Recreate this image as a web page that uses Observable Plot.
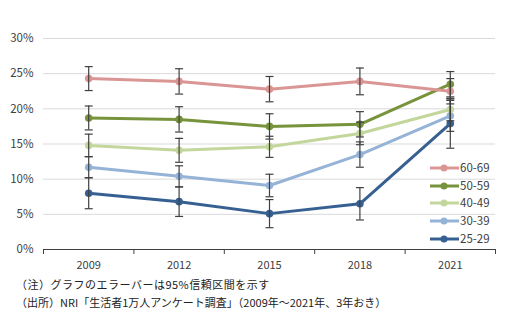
<!DOCTYPE html>
<html><head><meta charset="utf-8">
<script src="https://cdn.jsdelivr.net/npm/d3@7"></script>
<script src="https://cdn.jsdelivr.net/npm/@observablehq/plot@0.6"></script>
<style>
body{margin:0;background:#fff;font-family:"Noto Sans CJK JP","Noto Sans",sans-serif;}
#wrap{position:relative;width:510px;}
#legend{position:absolute;left:430px;top:159px;font-size:11.5px;color:#404040;line-height:17.7px;}
#legend .row{display:flex;align-items:center;height:17.7px;}
#legend svg{margin-right:1px;}
.cap{font-size:11px;color:#222;margin-left:16px;line-height:18px;white-space:nowrap;}
</style></head>
<body>
<div id="wrap"><div id="chart"></div><div id="legend"></div>
<div class="cap" style="letter-spacing:0.5px">（注）グラフのエラーバーは95%信頼区間を示す</div>
<div class="cap">（出所）NRI「生活者1万人アンケート調査」（2009年～2021年、3年おき）</div>
</div>
<script>
const years = [2009, 2012, 2015, 2018, 2021];
const seriesNames = ["60-69", "50-59", "40-49", "30-39", "25-29"];
const colors = ["#D99694", "#77933C", "#C3D69B", "#95B3D7", "#376092"];
const v6069 = [24.3, 23.9, 22.8, 23.9, 22.5];
const e6069 = [1.7, 1.8, 1.8, 1.9, 1.8];
const v5059 = [18.7, 18.5, 17.5, 17.8, 23.5];
const e5059 = [1.7, 1.8, 1.8, 1.8, 1.8];
const v4049 = [14.8, 14.1, 14.6, 16.5, 19.9];
const e4049 = [1.6, 1.7, 1.5, 1.6, 1.6];
const v3039 = [11.7, 10.4, 9.1, 13.5, 19.0];
const e3039 = [1.5, 1.5, 1.6, 1.8, 2.2];
const v2529 = [8.0, 6.8, 5.1, 6.5, 17.9];
const e2529 = [2.2, 2.1, 2.0, 2.3, 3.5];
const yTicks = [0, 5, 10, 15, 20, 25, 30];

const vals = [v6069, v5059, v4049, v3039, v2529];
const errs = [e6069, e5059, e4049, e3039, e2529];
const data = [];
seriesNames.forEach((s, i) => years.forEach((yr, j) => data.push({
  series: s, year: yr, value: vals[i][j], lo: vals[i][j] - errs[i][j], hi: vals[i][j] + errs[i][j]
})));
const boundaries = [years[0] - 1.5, ...years.map(y => y + 1.5)];
const capSymbol = {draw(ctx, size){ const w = 4; ctx.moveTo(-w, 0); ctx.lineTo(w, 0); }};
const drawOrder = [...seriesNames].reverse();

const plot = Plot.plot({
  width: 510, height: 275,
  marginLeft: 43, marginRight: 15, marginTop: 38, marginBottom: 26,
  style: {fontFamily: '"Noto Sans CJK JP","Noto Sans",sans-serif', fontSize: "11px", color: "#404040"},
  x: {domain: [years[0] - 1.5, years[years.length - 1] + 1.5], axis: null},
  y: {domain: [0, 30], axis: null},
  color: {domain: seriesNames, range: colors},
  marks: [
    Plot.ruleY(yTicks.slice(1), {stroke: "#d9d9d9", strokeWidth: 1}),
    Plot.ruleY([0], {stroke: "#404040", strokeWidth: 1}),
    Plot.ruleX(boundaries, {x: d => d, y1: 0, y2: 0, insetBottom: -5, stroke: "#404040"}),
    Plot.text(yTicks, {x: years[0] - 1.5, y: d => d, text: d => d + "%", textAnchor: "end", dx: -10, fontSize: 11.5, fill: "#404040"}),
    Plot.text(years, {x: d => d, y: 0, text: d => String(d), dy: 16, fontSize: 11, fill: "#404040"}),
    ...drawOrder.map(s => Plot.line(data.filter(d => d.series === s), {x: "year", y: "value", stroke: colors[seriesNames.indexOf(s)], strokeWidth: 3})),
    ...drawOrder.map(s => Plot.dot(data.filter(d => d.series === s), {x: "year", y: "value", fill: colors[seriesNames.indexOf(s)], r: 3.8})),
    Plot.ruleX(data, {x: "year", y1: "lo", y2: "hi", stroke: "#404040", strokeWidth: 1.2}),
    Plot.dot(data, {x: "year", y: "lo", symbol: capSymbol, stroke: "#404040", strokeWidth: 1.2, fill: "none"}),
    Plot.dot(data, {x: "year", y: "hi", symbol: capSymbol, stroke: "#404040", strokeWidth: 1.2, fill: "none"})
  ]
});
document.getElementById("chart").appendChild(plot);

const leg = document.getElementById("legend");
seriesNames.forEach((s, i) => {
  const row = document.createElement("div");
  row.className = "row";
  row.innerHTML = `<svg width="29" height="10"><line x1="0" y1="5" x2="29" y2="5" stroke="${colors[i]}" stroke-width="3"/><circle cx="14" cy="5" r="3.5" fill="${colors[i]}"/></svg><span>${s}</span>`;
  leg.appendChild(row);
});
</script>
</body></html>
